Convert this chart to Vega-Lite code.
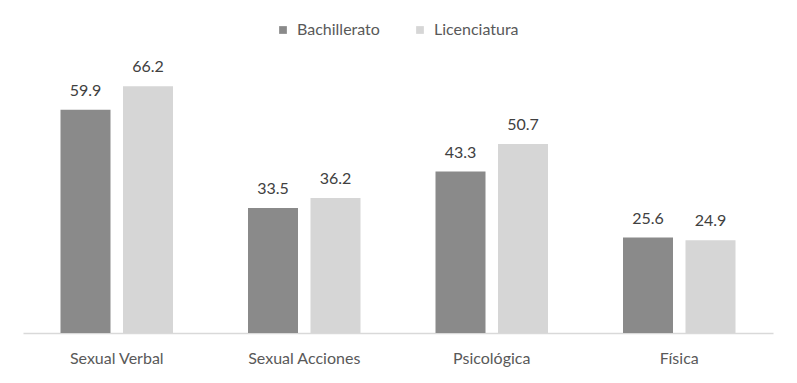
{
  "$schema": "https://vega.github.io/schema/vega-lite/v6.json",
  "width": 750,
  "height": 261,
  "autosize": "none",
  "padding": {"left": 23, "top": 72, "right": 24, "bottom": 50},
  "background": "white",
  "config": {"view": {"stroke": null}, "font": "Lato"},
  "data": {"values": [
    {"tipo": "Sexual Verbal", "nivel": "Bachillerato", "valor": 59.9},
    {"tipo": "Sexual Verbal", "nivel": "Licenciatura", "valor": 66.2},
    {"tipo": "Sexual Acciones", "nivel": "Bachillerato", "valor": 33.5},
    {"tipo": "Sexual Acciones", "nivel": "Licenciatura", "valor": 36.2},
    {"tipo": "Psicológica", "nivel": "Bachillerato", "valor": 43.3},
    {"tipo": "Psicológica", "nivel": "Licenciatura", "valor": 50.7},
    {"tipo": "Física", "nivel": "Bachillerato", "valor": 25.6},
    {"tipo": "Física", "nivel": "Licenciatura", "valor": 24.9}
  ]},
  "encoding": {
    "x": {"field": "tipo", "type": "nominal", "sort": null,
      "scale": {"paddingInner": 0.4, "paddingOuter": 0.2},
      "axis": {"title": null, "labelAngle": 0, "ticks": false, "domainColor": "#d9d9d9", "domainWidth": 1.5,
        "labelColor": "#595959", "labelFontSize": 16, "labelPadding": 17, "labelFont": "Lato"}},
    "xOffset": {"field": "nivel", "type": "nominal", "scale": {"paddingInner": 0.2, "paddingOuter": 0}},
    "y": {"field": "valor", "type": "quantitative", "scale": {"domain": [0, 70]}, "axis": null}
  },
  "layer": [
    {"mark": {"type": "bar"},
      "encoding": {"color": {"field": "nivel", "type": "nominal",
        "scale": {"domain": ["Bachillerato", "Licenciatura"], "range": ["#8a8a8a", "#d6d6d6"]},
        "legend": {"title": null, "orient": "none", "direction": "horizontal", "legendX": 252, "legendY": -50,
          "symbolType": "square", "symbolSize": 60, "labelFontSize": 16, "labelColor": "#595959", "labelFont": "Lato", "columnPadding": 32, "labelOffset": 6, "symbolStrokeWidth": 0}}}},
    {"mark": {"type": "text", "baseline": "alphabetic", "dy": -14, "fontSize": 16, "color": "#404040", "font": "Lato"},
      "encoding": {"text": {"field": "valor", "type": "quantitative", "format": ".1f"}}}
  ]
}
